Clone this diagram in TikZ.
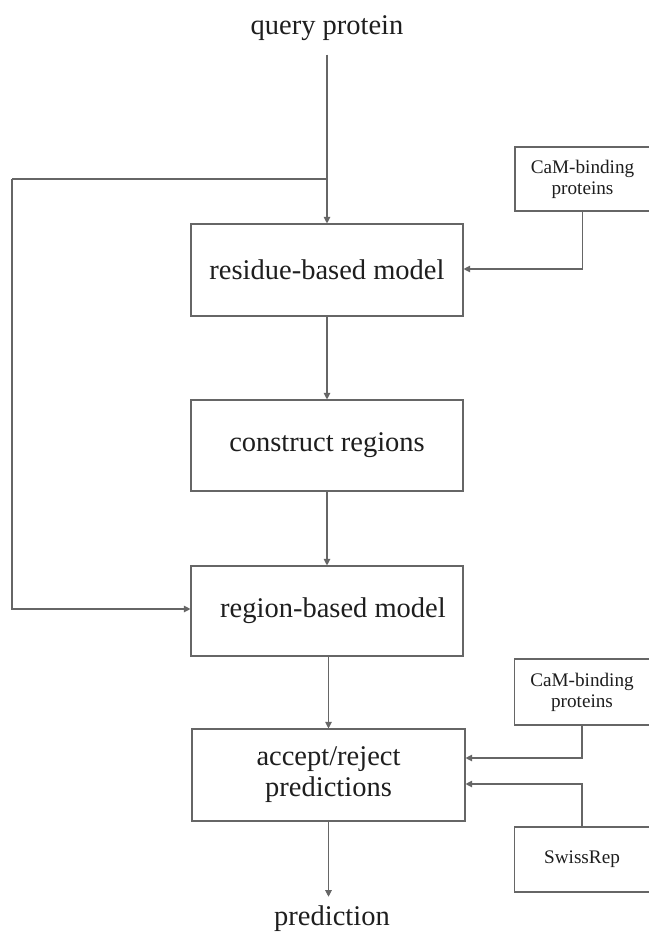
\documentclass[tikz,border=0pt]{standalone}
\usepackage{fontspec}
\setmainfont{Liberation Serif}
\usetikzlibrary{arrows.meta}
\definecolor{linegray}{HTML}{666666}
\definecolor{textdark}{HTML}{1E1E1E}
\newcommand\bigfnt{\fontsize{28.5bp}{31bp}\selectfont}
\newcommand\smallfnt{\fontsize{19.2bp}{21bp}\selectfont}
\begin{document}
\begin{tikzpicture}[x=1bp,y=-1bp,
  line/.style={draw=linegray,line width=1.1bp},
  arr/.style={line,-{Triangle[length=6.5bp,width=6.5bp]}},
  bigbox/.style={draw=linegray,line width=1.1bp,minimum width=272bp,minimum height=92bp,inner sep=0pt,font=\bigfnt,text=textdark,align=center},
  smallbox/.style={draw=linegray,line width=1.1bp,minimum width=135bp,minimum height=65bp,inner sep=0pt,font=\smallfnt,text=textdark,align=center},
  lbl/.style={font=\bigfnt,text=textdark,anchor=base}]
\useasboundingbox (0,0) rectangle (649,932);
\fill[white] (0,0) rectangle (649,932);

% text labels
\node[lbl] (qp) at (327,34) {query protein};
\node[lbl] (pred) at (332,925) {prediction};

% main boxes
\node[bigbox] (res) at (327,270) {residue-based model};
\node[bigbox,minimum height=91bp] (con) at (327,445.5) {construct regions};
\node[bigbox,minimum height=90bp] (reg) at (327,611) {\hspace*{12bp}region-based model};
\node[bigbox,minimum width=273bp] (acc) at (328.5,775) {accept/reject\\predictions};

% side boxes
\node[smallbox,minimum height=64bp] (cam1) at (582.5,179) {CaM-binding\\proteins};
\node[smallbox,minimum height=66bp] (cam2) at (582,692) {CaM-binding\\proteins};
\node[smallbox] (sw) at (582,859.5) {SwissRep};

% junction and corner
\coordinate (j) at (327,179);
\coordinate (lft) at (12,179);

% connectors
\draw[arr,shorten <=11bp] (qp.south) -- (res.north);
\draw[line] (j) -- (lft);
\draw[arr] (lft) |- ([yshift=2bp]reg.west);
\draw[arr] (cam1.south) |- ([yshift=1bp]res.east);
\draw[arr] (res) -- (con);
\draw[arr] (con) -- (reg);
\draw[arr] (reg.south -| acc.north) -- (acc.north);
\draw[arr] (cam2.south) |- ([yshift=17bp]acc.east);
\draw[arr] (sw.north) |- ([yshift=-9bp]acc.east);
\draw[arr,shorten >=5bp] (acc.south) -- (acc.south |- pred.north);
\end{tikzpicture}
\end{document}
